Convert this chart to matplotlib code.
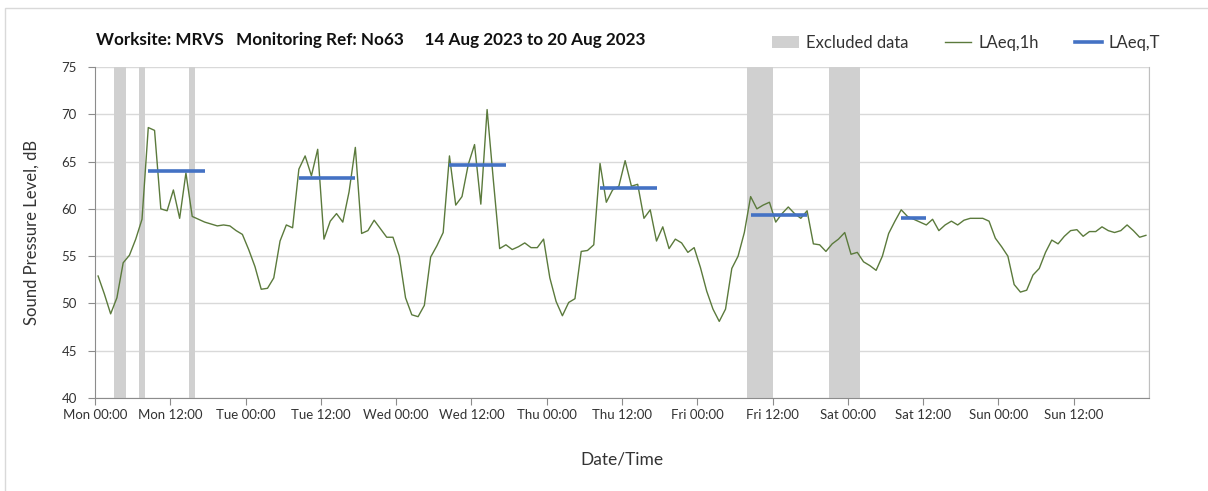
"""Noise monitoring week: hourly LAeq with daytime LAeq,T and excluded periods."""
import matplotlib

matplotlib.use("Agg")
import matplotlib.pyplot as plt
from matplotlib.patches import Patch, Rectangle
from matplotlib.lines import Line2D

# hourly LAeq,1h, Mon 00:00 .. Sun 23:00 (168 values, plotted mid-hour)
LAEQ_1H = [
    52.9, 51.0, 48.9, 50.6, 54.3, 55.1, 56.8, 58.9, 68.6, 68.3, 60.0, 59.8,
    62.0, 59.0, 63.8, 59.2, 58.9, 58.6, 58.4, 58.2, 58.3, 58.2, 57.7, 57.3,
    55.7, 53.9, 51.5, 51.6, 52.7, 56.6, 58.3, 58.0, 64.2, 65.6, 63.5, 66.3,
    56.8, 58.7, 59.5, 58.6, 61.8, 66.5, 57.4, 57.7, 58.8, 57.9, 57.0, 57.0,
    55.0, 50.6, 48.8, 48.6, 49.8, 54.9, 56.1, 57.5, 65.6, 60.4, 61.3, 64.7,
    66.8, 60.5, 70.5, 63.0, 55.8, 56.2, 55.7, 56.0, 56.4, 55.9, 55.9, 56.8,
    52.7, 50.2, 48.7, 50.1, 50.5, 55.5, 55.6, 56.2, 64.8, 60.7, 62.0, 62.4,
    65.1, 62.4, 62.6, 59.0, 59.9, 56.6, 58.1, 55.8, 56.8, 56.4, 55.4, 55.9,
    53.8, 51.3, 49.4, 48.1, 49.4, 53.7, 55.0, 57.5, 61.3, 60.0, 60.4, 60.7,
    58.6, 59.5, 60.2, 59.5, 59.0, 59.8, 56.3, 56.2, 55.5, 56.3, 56.8, 57.5,
    55.2, 55.4, 54.4, 54.0, 53.5, 55.0, 57.4, 58.7, 59.9, 59.2, 58.9, 58.6,
    58.3, 58.9, 57.7, 58.3, 58.7, 58.3, 58.8, 59.0, 59.0, 59.0, 58.7, 56.9,
    56.0, 55.0, 52.0, 51.2, 51.4, 53.0, 53.7, 55.4, 56.7, 56.3, 57.1, 57.7,
    57.8, 57.1, 57.6, 57.6, 58.1, 57.7, 57.5, 57.7, 58.3, 57.7, 57.0, 57.2,
]

# daytime LAeq,T per day (hours from Mon 00:00)
LAEQ_T = [64.0, 63.3, 64.6, 62.2, 59.3, 59.0]
T_START = [8.5, 32.5, 56.5, 80.5, 104.5, 128.5]
T_END = [17.5, 41.5, 65.5, 89.5, 113.5, 132.5]

# excluded periods (hours from Mon 00:00)
EXCL_START = [3, 7, 15, 104, 117]
EXCL_END = [5, 8, 16, 108, 122]

DAYS = ["Mon", "Tue", "Wed", "Thu", "Fri", "Sat", "Sun"]
TICK_LABELS = [f"{d} {t}" for d in DAYS for t in ("00:00", "12:00")]

GREEN = "#5b7a3c"
BLUE = "#4472c4"
GREY = "#d0d0d0"
TEXT = "#333333"

plt.rcParams["font.family"] = ["Lato", "DejaVu Sans"]

fig = plt.figure(figsize=(12.08, 4.91), dpi=100)
ax = fig.add_axes([0.0786, 0.1894, 0.8726, 0.6741])

# light frame around the chart area
fig.patches.append(Rectangle((5 / 1208, -0.1), 1.2, 1.1 - 8 / 491,
                             transform=fig.transFigure, fill=False,
                             edgecolor="#d9d9d9", linewidth=1, zorder=0))

for s, e in zip(EXCL_START, EXCL_END):
    ax.axvspan(s, e, color=GREY, lw=0, zorder=1)

hours = [h + 0.5 for h in range(len(LAEQ_1H))]
ax.plot(hours, LAEQ_1H, color=GREEN, lw=1.0, zorder=3)

for v, s, e in zip(LAEQ_T, T_START, T_END):
    ax.plot([s, e], [v, v], color=BLUE, lw=2.6, solid_capstyle="butt", zorder=4)

ax.set_xlim(0, 168)
ax.set_ylim(40, 75)
ax.set_yticks(range(40, 76, 5))
ax.set_xticks(range(0, 168, 12))
ax.set_xticklabels(TICK_LABELS)
ax.set_xticks(range(0, 169, 24), minor=True)

ax.grid(axis="y", color="#d9d9d9", lw=1.0, zorder=0)
ax.grid(axis="x", which="minor", color="#e3e3e3", lw=1.0, zorder=0)
ax.set_axisbelow(True)

ax.spines["top"].set_visible(False)
ax.spines["right"].set_color("#bfbfbf")
for side in ("left", "bottom"):
    ax.spines[side].set_color("#8c8c8c")

ax.tick_params(axis="x", which="major", length=5, color="#8c8c8c",
               labelsize=9.5, labelcolor=TEXT, pad=3)
ax.tick_params(axis="x", which="minor", length=0)
ax.tick_params(axis="y", length=5, color="#8c8c8c", labelsize=9.5,
               labelcolor=TEXT, pad=8)

ax.set_ylabel("Sound Pressure Level, dB", fontsize=12, color=TEXT, labelpad=16)
ax.set_xlabel("Date/Time", fontsize=12.5, color=TEXT, labelpad=22)

fig.text(96 / 1208, 1 - 40 / 491,
         "Worksite: MRVS   Monitoring Ref: No63     14 Aug 2023 to 20 Aug 2023",
         fontsize=12.3, fontweight="bold", color="#111111", va="center")

handles = [
    Patch(facecolor=GREY, edgecolor="none"),
    Line2D([], [], color=GREEN, lw=1.0),
    Line2D([], [], color=BLUE, lw=2.6),
]
fig.legend(handles, ["Excluded data", "LAeq,1h", "LAeq,T"],
           loc="center right", bbox_to_anchor=(1175 / 1208, 1 - 43 / 491),
           ncol=3, frameon=False, fontsize=12, handlelength=1.6,
           handletextpad=0.4, columnspacing=2.2, labelcolor=TEXT)

fig.savefig("out.png", dpi=100)
